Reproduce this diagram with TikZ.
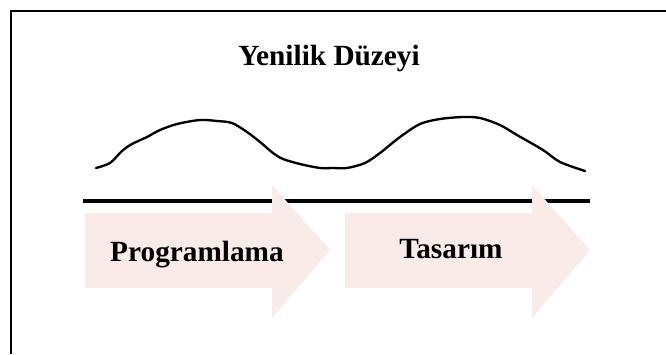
\documentclass[tikz,border=0pt]{standalone}
\usepackage{fontspec}
\setmainfont{Liberation Serif}
\definecolor{arrowpink}{RGB}{248,235,232}
\begin{document}
\begin{tikzpicture}[x=0.03cm, y=-0.03cm,
  boldtext/.style={font=\fontsize{25}{30}\selectfont\bfseries, inner sep=0pt, anchor=base},
  blockarrow/.style={fill=arrowpink}]
\useasboundingbox (0,0) rectangle (666,354);
\draw[line width=1.7pt] (11,354) -- (11,11) -- (666,11);
\node[boldtext] (title) at (329,65) {Yenilik Düzeyi};
% level curve
\draw[line width=2pt, line join=round, line cap=round] plot[smooth, tension=0.5] coordinates {
  (96,168) (110,163) (122,151) (132,144) (147,137) (160,130) (177,124) (200,120)
  (217,121) (232,123) (247,132) (260,142) (273,153) (283,159) (300,164) (320,168)
  (333,168) (347,168) (365,163) (380,153) (400,137) (420,124) (440,119) (463,117)
  (480,118) (500,125) (517,135) (543,150) (560,162) (585,171)};
\coordinate (lstart) at (83,201);
\coordinate (lend) at (590,201);
\draw[line width=2.6pt] (lstart) -- (lend);
% block arrows
\fill[blockarrow] (85,213) -- (272,213) -- (272,185) -- (330,250) -- (272,318) -- (272,288) -- (85,288) -- cycle;
\fill[blockarrow] (345,213) -- (532,213) -- (532,185) -- (590,250) -- (532,318) -- (532,288) -- (345,288) -- cycle;
\node[boldtext] (prog) at (197,261) {Programlama};
\node[boldtext] (tas) at (451,258) {Tasarım};
\end{tikzpicture}
\end{document}
